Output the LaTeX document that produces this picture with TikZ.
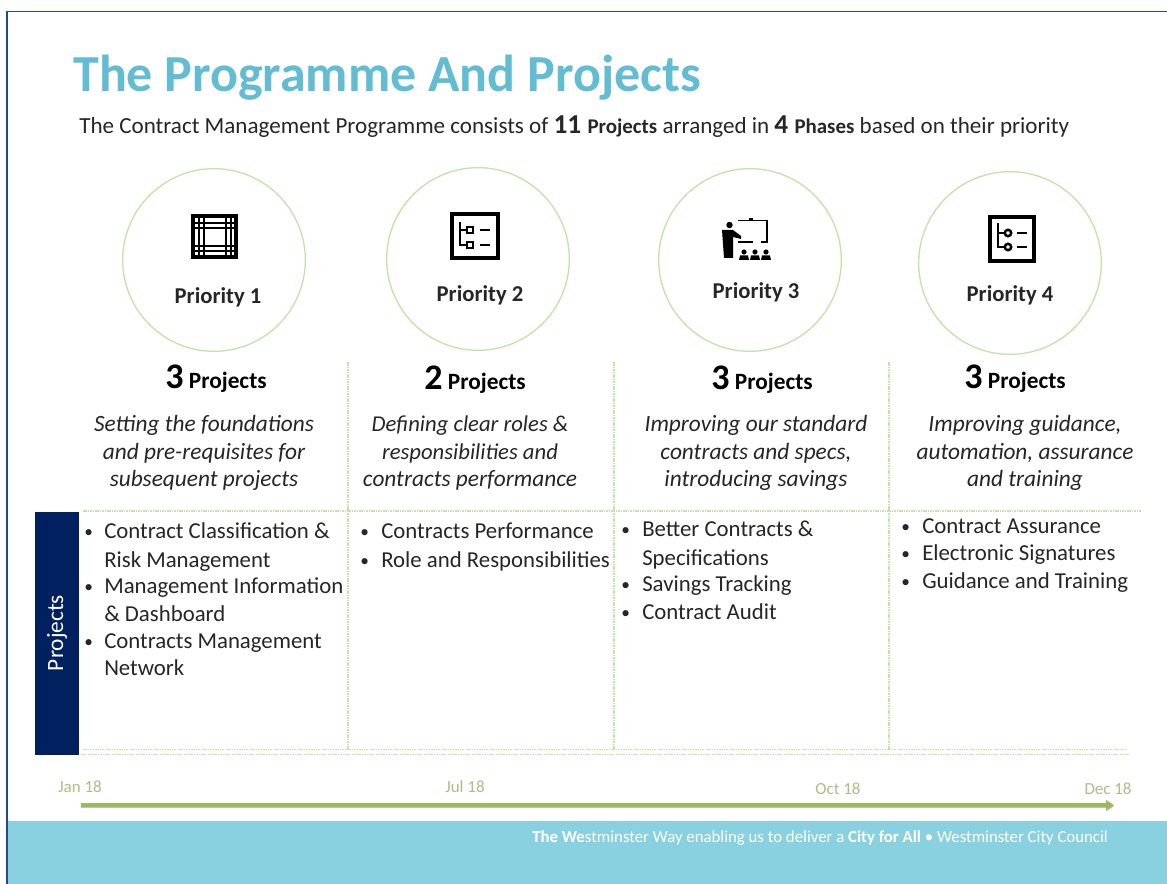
\documentclass[tikz,border=0pt]{standalone}
\usepackage{fontspec}
\setmainfont{Carlito}
\usetikzlibrary{arrows.meta}
\definecolor{titleteal}{HTML}{62BDD3}
\definecolor{bandteal}{HTML}{89D1E0}
\definecolor{navy}{HTML}{002060}
\definecolor{edgeblue}{HTML}{1F4E87}
\definecolor{ringgreen}{HTML}{C4E3A6}
\definecolor{gridgreen}{HTML}{C6E2A8}
\definecolor{arrowgreen}{HTML}{9BBB59}
\definecolor{datecol}{HTML}{A9BF85}
\definecolor{inktext}{HTML}{262626}
\tikzset{
  x=0.75pt,y=-0.75pt,
  ring/.style={circle,draw=ringgreen,line width=1pt,minimum size=137pt,inner sep=0},
  grid/.style={draw=gridgreen,line width=0.9pt,dash pattern=on 1.2pt off 0.6pt},
  txt/.style={anchor=base west,inner sep=0,text=inktext,font=\fontsize{17.1}{19}\selectfont},
  dot/.style={anchor=base west,inner sep=0,text=inktext,font=\fontsize{13}{19}\selectfont},
  mid/.style={anchor=base,inner sep=0,text=inktext,font=\fontsize{17.5}{19}\selectfont\itshape},
  head/.style={anchor=base,inner sep=0,text=black,font=\fontsize{17.5}{16}\selectfont\bfseries},
  prio/.style={anchor=base,inner sep=0,text=inktext,font=\fontsize{17}{16}\selectfont\bfseries},
  dates/.style={anchor=base,inner sep=0,text=datecol,font=\fontsize{12.7}{14}\selectfont},
  icon/.style={draw=black,line width=2.6pt,fill=white},
  iconthin/.style={draw=black,line width=1.6pt},
}
\newcommand{\bignum}[1]{{\fontsize{27}{26}\selectfont #1}}
\begin{document}
\begin{tikzpicture}
\useasboundingbox (0,0) rectangle (1167,884);
\fill[white] (0,0) rectangle (1167,884);
% frame and band
\fill[bandteal] (7,821) rectangle (1167,884);
\draw[edgeblue,line width=1.1pt] (1167,11.5) -- (7,11.5) -- (7,884);
% title
\node[anchor=base west,inner sep=0,text=titleteal,font=\fontsize{39}{44}\selectfont\bfseries] (title) at (73,92) {The Programme And Projects};
\node[anchor=base west,inner sep=0,text=inktext,font=\fontsize{17.3}{19}\selectfont] (subtitle) at (79,133.5)
 {The Contract Management Programme consists of {\bfseries\fontsize{20.5}{19}\selectfont 11 \fontsize{15.7}{19}\selectfont Projects} arranged in {\bfseries\fontsize{20.5}{19}\selectfont 4 \fontsize{15.7}{19}\selectfont Phases} based on their priority};
% circles
\node[ring] (c1) at (214,260) {};
\node[ring] (c2) at (478,259) {};
\node[ring] (c3) at (750,260) {};
\node[ring] (c4) at (1010,263) {};
\node[prio] (p1) at (218,303) {Priority 1};
\node[prio] (p2) at (480,301.5) {Priority 2};
\node[prio] (p3) at (756,298.5) {Priority 3};
\node[prio] (p4) at (1010,301.5) {Priority 4};
% icon 1: grid
\draw[icon,line width=3pt] (193,216) rectangle (236,257);
\draw[iconthin] (192,223) -- (237,223) (192,228) -- (237,228) (192,246) -- (237,246) (192,251) -- (237,251);
\draw[iconthin] (199,215) -- (199,258) (204,215) -- (204,258) (226,215) -- (226,258) (231,215) -- (231,258);
% icon 2: tree list
\draw[icon] (452,214) rectangle (498,258);
\draw[iconthin] (460,222) -- (460,245) -- (467,245) (460,230) -- (467,230);
\draw[iconthin,line width=1.9pt] (467,227) rectangle (473,233) (467,242) rectangle (473,248);
\draw[line width=1.7pt] (480,230) -- (490,230) (480,245) -- (490,245);
% icon 3: presenter
\draw[iconthin,line width=1.4pt] (738,220.5) -- (767,220.5) -- (767,242) -- (761,242) (753,242) -- (738,242);
\fill[black] (749,218) rectangle (753,221);
\fill[black] (729.5,225) circle (3.2);
\fill[black] (722,230) -- (733,230) -- (741,236) -- (741,239) -- (733,237) -- (733,258) -- (724,258) -- cycle;
\foreach \xx in {744,755,766}{
  \fill[black] (\xx,252) circle (2.6);
  \fill[black] (\xx-5,260) -- (\xx-4,255.5) -- (\xx+4,255.5) -- (\xx+5,260) -- cycle;
}
% icon 4: tree list
\draw[icon] (990,217) rectangle (1034,261);
\draw[iconthin] (998,223) -- (998,247) -- (1005,247) (998,233) -- (1005,233);
\draw[iconthin,line width=1.9pt] (1008,233) circle (3.2) (1008,247) circle (3.2);
\draw[line width=1.7pt] (1017,233) -- (1027,233) (1017,247) -- (1027,247);
% grid
\coordinate (v1t) at (348,362); \coordinate (v1b) at (348,750);
\coordinate (v2t) at (614,362); \coordinate (v2b) at (614,750);
\coordinate (v3t) at (889,362); \coordinate (v3b) at (889,750);
\coordinate (hl) at (83,511); \coordinate (hr) at (1141,511);
\coordinate (b1l) at (83,749.5); \coordinate (b1r) at (1127,749.5);
\coordinate (b2l) at (81,754.5); \coordinate (b2r) at (1129,754.5);
\draw[grid] (v1t) -- (v1b);
\draw[grid] (v2t) -- (v2b);
\draw[grid] (v3t) -- (v3b);
\draw[grid] (hl) -- (hr);
\draw[grid] (b1l) -- (b1r);
\draw[grid] (b2l) -- (b2r);
% headers
\node[head] (h1) at (216,388) {\bignum{3} Projects};
\node[head] (h2) at (475,389) {\bignum{2} Projects};
\node[head] (h3) at (762,389) {\bignum{3} Projects};
\node[head] (h4) at (1015,388) {\bignum{3} Projects};
% italics
\node[mid] (a1) at (204,431) {Setting the foundations};
\node[mid] (a2) at (204,459) {and pre-requisites for};
\node[mid] (a3) at (204,486) {subsequent projects};
\node[mid,font=\fontsize{17}{19}\selectfont\itshape] (b1) at (470,431) {Defining clear roles \&};
\node[mid,font=\fontsize{17}{19}\selectfont\itshape] (b2) at (470,459) {responsibilities and};
\node[mid] (b3) at (470,486) {contracts performance};
\node[mid] (d1) at (756,431) {Improving our standard};
\node[mid] (d2) at (756,459) {contracts and specs,};
\node[mid] (d3) at (756,486) {introducing savings};
\node[mid] (e1) at (1025,431) {Improving guidance,};
\node[mid] (e2) at (1025,459) {automation, assurance};
\node[mid] (e3) at (1025,486) {and training};
% projects bar
\fill[navy] (35,512) rectangle (79,755);
\node[rotate=90,inner sep=0,text=white,font=\fontsize{17.5}{20}\selectfont] (pbar) at (57,633) {Projects};
% bullets col 1
\node[dot] (l1) at (84,537) {•}; \node[txt] (l1t) at (104,538) {Contract Classification \&};
\node[txt] (l2t) at (104,567) {Risk Management};
\node[dot] (l3) at (84,592) {•}; \node[txt] (l3t) at (104,593) {Management Information};
\node[txt] (l4t) at (104,621) {\& Dashboard};
\node[dot] (l5) at (84,647) {•}; \node[txt] (l5t) at (104,648) {Contracts Management};
\node[txt] (l6t) at (104,675) {Network};
% col 2
\node[dot] (m1) at (360,537) {•}; \node[txt] (m1t) at (381,538) {Contracts Performance};
\node[dot] (m2) at (360,566) {•}; \node[txt] (m2t) at (381,567) {Role and Responsibilities};
% col 3
\node[dot] (n1) at (621,535) {•}; \node[txt] (n1t) at (642,536) {Better Contracts \&};
\node[txt] (n2t) at (642,565) {Specifications};
\node[dot] (n3) at (621,590) {•}; \node[txt] (n3t) at (642,591) {Savings Tracking};
\node[dot] (n4) at (621,618) {•}; \node[txt] (n4t) at (642,619) {Contract Audit};
% col 4
\node[dot] (q1) at (901,532) {•}; \node[txt] (q1t) at (922,533) {Contract Assurance};
\node[dot] (q2) at (901,559) {•}; \node[txt] (q2t) at (922,560) {Electronic Signatures};
\node[dot] (q3) at (901,587) {•}; \node[txt] (q3t) at (922,588) {Guidance and Training};
% timeline
\node[dates] (j1) at (80,792) {Jan 18};
\node[dates] (j2) at (465,792) {Jul 18};
\node[dates] (j3) at (838,794) {Oct 18};
\node[dates] (j4) at (1108,794) {Dec 18};
\coordinate (tl) at (81,805); \coordinate (tr) at (1114,805);
\coordinate (sl) at (81,806.5); \coordinate (sr) at (1114,806.5);
\draw[black!25,line width=2pt,-{Triangle[length=6pt,width=7pt]}] (sl) -- (sr);
\draw[arrowgreen,line width=2.4pt,-{Triangle[length=6pt,width=7pt]}] (tl) -- (tr);
% footer
\node[anchor=base west,inner sep=0,text=white,font=\fontsize{12.6}{14}\selectfont] (foot) at (532,842)
 {\textbf{The We}stminster Way enabling us to deliver a \textbf{City for All} • Westminster City Council};
\end{tikzpicture}
\end{document}
